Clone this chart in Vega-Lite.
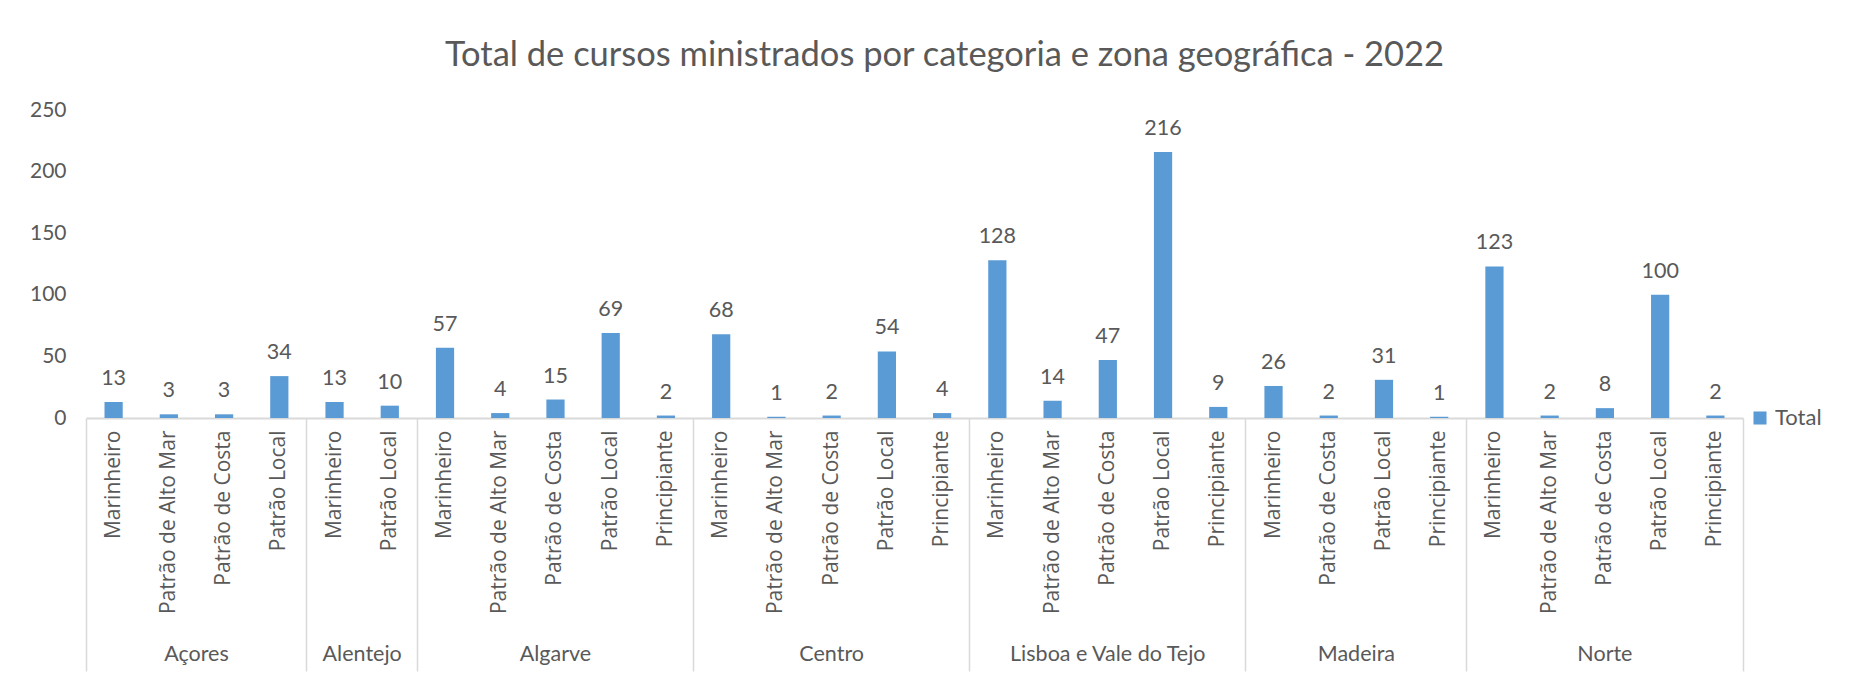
{
  "$schema": "https://vega.github.io/schema/vega-lite/v6.json",
  "autosize": "none",
  "width": 1657,
  "height": 308,
  "padding": {"left": 86, "top": 110, "right": 120, "bottom": 260},
  "background": "white",
  "title": {
    "text": "Total de cursos ministrados por categoria e zona geográfica - 2022",
    "font": "Lato", "fontSize": 34.5, "fontWeight": "normal", "color": "#595959",
    "anchor": "middle", "dx": 30, "offset": 26
  },
  "config": {"view": {"stroke": null}},
  "data": {"values": [
    {"zona": "Açores", "categoria": "Marinheiro", "id": "Açores|Marinheiro", "total": 13},
    {"zona": "Açores", "categoria": "Patrão de Alto Mar", "id": "Açores|Patrão de Alto Mar", "total": 3},
    {"zona": "Açores", "categoria": "Patrão de Costa", "id": "Açores|Patrão de Costa", "total": 3},
    {"zona": "Açores", "categoria": "Patrão Local", "id": "Açores|Patrão Local", "total": 34},
    {"zona": "Alentejo", "categoria": "Marinheiro", "id": "Alentejo|Marinheiro", "total": 13},
    {"zona": "Alentejo", "categoria": "Patrão Local", "id": "Alentejo|Patrão Local", "total": 10},
    {"zona": "Algarve", "categoria": "Marinheiro", "id": "Algarve|Marinheiro", "total": 57},
    {"zona": "Algarve", "categoria": "Patrão de Alto Mar", "id": "Algarve|Patrão de Alto Mar", "total": 4},
    {"zona": "Algarve", "categoria": "Patrão de Costa", "id": "Algarve|Patrão de Costa", "total": 15},
    {"zona": "Algarve", "categoria": "Patrão Local", "id": "Algarve|Patrão Local", "total": 69},
    {"zona": "Algarve", "categoria": "Principiante", "id": "Algarve|Principiante", "total": 2},
    {"zona": "Centro", "categoria": "Marinheiro", "id": "Centro|Marinheiro", "total": 68},
    {"zona": "Centro", "categoria": "Patrão de Alto Mar", "id": "Centro|Patrão de Alto Mar", "total": 1},
    {"zona": "Centro", "categoria": "Patrão de Costa", "id": "Centro|Patrão de Costa", "total": 2},
    {"zona": "Centro", "categoria": "Patrão Local", "id": "Centro|Patrão Local", "total": 54},
    {"zona": "Centro", "categoria": "Principiante", "id": "Centro|Principiante", "total": 4},
    {"zona": "Lisboa e Vale do Tejo", "categoria": "Marinheiro", "id": "Lisboa e Vale do Tejo|Marinheiro", "total": 128},
    {"zona": "Lisboa e Vale do Tejo", "categoria": "Patrão de Alto Mar", "id": "Lisboa e Vale do Tejo|Patrão de Alto Mar", "total": 14},
    {"zona": "Lisboa e Vale do Tejo", "categoria": "Patrão de Costa", "id": "Lisboa e Vale do Tejo|Patrão de Costa", "total": 47},
    {"zona": "Lisboa e Vale do Tejo", "categoria": "Patrão Local", "id": "Lisboa e Vale do Tejo|Patrão Local", "total": 216},
    {"zona": "Lisboa e Vale do Tejo", "categoria": "Principiante", "id": "Lisboa e Vale do Tejo|Principiante", "total": 9},
    {"zona": "Madeira", "categoria": "Marinheiro", "id": "Madeira|Marinheiro", "total": 26},
    {"zona": "Madeira", "categoria": "Patrão de Costa", "id": "Madeira|Patrão de Costa", "total": 2},
    {"zona": "Madeira", "categoria": "Patrão Local", "id": "Madeira|Patrão Local", "total": 31},
    {"zona": "Madeira", "categoria": "Principiante", "id": "Madeira|Principiante", "total": 1},
    {"zona": "Norte", "categoria": "Marinheiro", "id": "Norte|Marinheiro", "total": 123},
    {"zona": "Norte", "categoria": "Patrão de Alto Mar", "id": "Norte|Patrão de Alto Mar", "total": 2},
    {"zona": "Norte", "categoria": "Patrão de Costa", "id": "Norte|Patrão de Costa", "total": 8},
    {"zona": "Norte", "categoria": "Patrão Local", "id": "Norte|Patrão Local", "total": 100},
    {"zona": "Norte", "categoria": "Principiante", "id": "Norte|Principiante", "total": 2}
  ]},
  "resolve": {"axis": {"x": "independent"}},
  "layer": [
    {
      "mark": {"type": "bar", "width": {"band": 0.33}},
      "encoding": {
        "x": {
          "field": "id", "type": "nominal", "sort": null,
          "scale": {"paddingInner": 0, "paddingOuter": 0},
          "axis": {
            "orient": "bottom", "title": null,
            "labelExpr": "split(datum.value, '|')[1]",
            "labelAngle": -90, "labelAlign": "right", "labelBaseline": "middle",
            "labelPadding": 12, "ticks": false, "tickSize": 0,
            "domain": true, "domainColor": "#d9d9d9", "domainWidth": 2,
            "labelFont": "Open Sans", "labelFontSize": 21, "labelColor": "#595959",
            "labelOverlap": false, "labelLimit": 0, "grid": false
          }
        },
        "y": {
          "field": "total", "type": "quantitative",
          "scale": {"domain": [0, 250], "nice": false},
          "axis": {
            "title": null, "values": [0, 50, 100, 150, 200, 250],
            "grid": false, "domain": false, "ticks": false,
            "labelPadding": 20, "labelFont": "Lato", "labelFontSize": 21, "labelColor": "#595959"
          }
        },
        "color": {
          "datum": "Total",
          "scale": {"range": ["#5b9bd5"]},
          "legend": {
            "orient": "none", "legendX": 1663, "legendY": 297, "title": null,
            "symbolType": "square", "symbolSize": 170, "symbolStrokeWidth": 0,
            "labelFont": "Lato", "labelFontSize": 22, "labelColor": "#595959"
          }
        }
      }
    },
    {
      "mark": {"type": "text", "baseline": "alphabetic", "dy": -17, "font": "Lato", "fontSize": 21.5, "color": "#595959"},
      "encoding": {
        "x": {"field": "id", "type": "nominal", "sort": null, "axis": {"orient": "bottom", "labels": false, "ticks": false, "domain": false, "title": null, "grid": false}},
        "y": {"field": "total", "type": "quantitative"},
        "text": {"field": "total", "type": "quantitative"}
      }
    },
    {
      "mark": {"type": "point", "opacity": 0},
      "encoding": {
        "x": {"field": "id", "type": "nominal", "sort": null, "axis": {
          "orient": "bottom", "title": null, "values": ["Açores|Marinheiro", "Alentejo|Marinheiro", "Algarve|Marinheiro", "Centro|Marinheiro", "Lisboa e Vale do Tejo|Marinheiro", "Madeira|Marinheiro", "Norte|Marinheiro"],
          "bandPosition": 0, "ticks": true, "tickSize": 253, "tickColor": "#d9d9d9", "tickWidth": 1.5,
          "labels": false, "domain": false, "grid": false
        }}
      }
    },
    {
      "mark": {"type": "point", "opacity": 0},
      "encoding": {
        "x": {"field": "id", "type": "nominal", "sort": null, "axis": {
          "orient": "bottom", "title": null, "values": ["Norte|Principiante"],
          "bandPosition": 1, "ticks": true, "tickSize": 253, "tickColor": "#d9d9d9", "tickWidth": 1.5,
          "labels": false, "domain": false, "grid": false
        }}
      }
    },
    {
      "mark": {"type": "point", "opacity": 0},
      "encoding": {
        "x": {"field": "id", "type": "nominal", "sort": null, "axis": {
          "orient": "bottom", "title": null, "values": ["Algarve|Patrão de Costa", "Centro|Patrão de Costa", "Lisboa e Vale do Tejo|Patrão de Costa", "Norte|Patrão de Costa"],
          "ticks": false, "tickSize": 0, "domain": false, "grid": false,
          "labelExpr": "split(datum.value, '|')[0]", "labelAngle": 0, "labelAlign": "center", "labelBaseline": "top",
          "labelPadding": 225, "labelFont": "Lato", "labelFontSize": 21.5, "labelColor": "#595959", "labelOverlap": false, "labelLimit": 0
        }}
      }
    },
    {
      "mark": {"type": "point", "opacity": 0},
      "encoding": {
        "x": {"field": "id", "type": "nominal", "sort": null, "axis": {
          "orient": "bottom", "title": null, "values": ["Açores|Patrão de Costa", "Alentejo|Patrão Local", "Madeira|Patrão Local"],
          "labelOffset": -27.6, "ticks": false, "tickSize": 0, "domain": false, "grid": false,
          "labelExpr": "split(datum.value, '|')[0]", "labelAngle": 0, "labelAlign": "center", "labelBaseline": "top",
          "labelPadding": 225, "labelFont": "Lato", "labelFontSize": 21.5, "labelColor": "#595959", "labelOverlap": false, "labelLimit": 0
        }}
      }
    }
  ]
}
